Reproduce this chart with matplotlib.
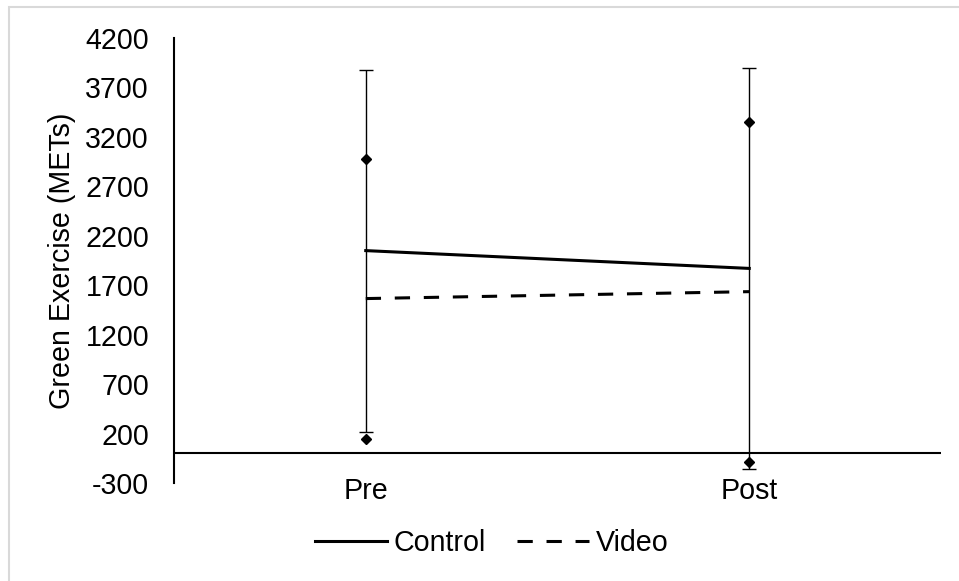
import matplotlib
matplotlib.use("Agg")
import matplotlib.pyplot as plt
from matplotlib.patches import Rectangle
from matplotlib.lines import Line2D
import numpy as np

# data
categories = ["Pre", "Post"]
control_mean = [2050, 1870]
control_sd = [1830, 2025]
video_mean = [1565, 1635]
video_sd = [1415, 1720]
y_ticks = [-300, 200, 700, 1200, 1700, 2200, 2700, 3200, 3700, 4200]

plt.rcParams["font.family"] = ["Liberation Sans", "DejaVu Sans"]
plt.rcParams["font.size"] = 20.6
plt.rcParams["axes.unicode_minus"] = False

fig = plt.figure(figsize=(9.59, 5.81), dpi=100)
ax = fig.add_axes([174 / 959, 1 - 483 / 581, 767 / 959, 445 / 581])

x = np.arange(len(categories))

# control line with error bars
ax.errorbar(x, control_mean, yerr=control_sd, color="black", lw=2.2,
            ecolor="black", elinewidth=1.0, capsize=5, capthick=1.0, zorder=3)
# video line, SD shown as diamonds
ax.plot(x, video_mean, color="black", lw=2.2, dashes=(5, 4.5), zorder=3)
v_lo = np.array(video_mean) - np.array(video_sd)
v_hi = np.array(video_mean) + np.array(video_sd)
ax.plot(x, v_hi, "D", color="black", ms=5, ls="none", zorder=4)
ax.plot(x, v_lo, "D", color="black", ms=5, ls="none", zorder=4)

ax.axhline(0, color="black", lw=1.5, zorder=2)

ax.set_xlim(-0.5, 1.5)
ax.set_ylim(-300, 4200)
ax.set_yticks(y_ticks)
ax.set_xticks(x)
ax.set_xticklabels(categories)
ax.tick_params(axis="y", length=0, pad=18)
ax.tick_params(axis="x", length=0, pad=-4)

for s in ["top", "right", "bottom"]:
    ax.spines[s].set_visible(False)
ax.spines["left"].set_linewidth(1.5)

ax.set_ylabel("Green Exercise (METs)")
ax.yaxis.set_label_coords(-0.128, 0.5)

handles = [Line2D([], [], color="black", lw=2.2),
           Line2D([], [], color="black", lw=2.2, dashes=(5, 4.5))]
fig.legend(handles, ["Control", "Video"], loc="center",
           bbox_to_anchor=(492 / 959, 1 - 543 / 581), ncol=2, frameon=False,
           handlelength=2.5, handletextpad=0.25, columnspacing=1.1)

# light chart frame
fig.add_artist(Rectangle((9 / 959, -0.1), 1.2, 1 - 7 / 581 + 0.1,
                         transform=fig.transFigure, fill=False,
                         edgecolor="#d9d9d9", lw=1.5))

fig.savefig("out.png", dpi=100)
